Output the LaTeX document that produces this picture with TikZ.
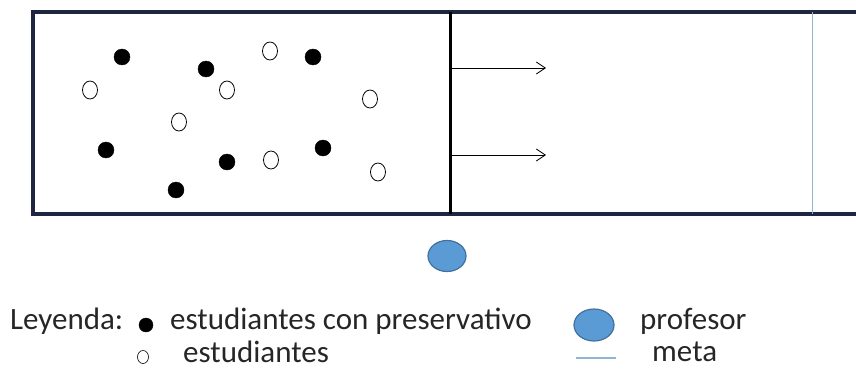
\documentclass[tikz,border=0pt]{standalone}
\usepackage{fontspec}
\setmainfont{Carlito}
\usetikzlibrary{arrows.meta,shapes.geometric}
\definecolor{frame}{HTML}{1F2640}
\definecolor{profFill}{HTML}{5B9BD5}
\definecolor{profLine}{HTML}{41719C}
\definecolor{metaLine}{HTML}{8FB4D8}
\tikzset{
  con/.style={circle,fill=black,draw=black,minimum width=15pt,minimum height=16pt,inner sep=0pt},
  sin/.style={ellipse,draw=black,line width=0.8pt,fill=white,minimum width=15pt,minimum height=18pt,inner sep=0pt},
  prof/.style={ellipse,fill=profFill,draw=profLine,line width=1.2pt,inner sep=0pt},
  lab/.style={anchor=west,font=\fontsize{31}{36}\selectfont,inner sep=0pt,text=black!85},
  runarrow/.style={-{Straight Barb[length=9pt,width=12pt]},line width=0.8pt}
}
\begin{document}
\begin{tikzpicture}[x=1pt,y=-1pt]
\useasboundingbox (0,0) rectangle (856,369);
\begin{scope}
\clip (0,0) rectangle (856,369);
% field
\draw[frame,line width=4pt] (870,12) -- (33,12) -- (33,214) -- (870,214);
\draw[black,line width=3pt] (450,12) -- (450,214);
\draw[metaLine,line width=1pt] (812,12) -- (812,214);
\end{scope}
% arrows
\coordinate (a1s) at (452,68);
\coordinate (a1e) at (546,68);
\coordinate (a2s) at (452,155);
\coordinate (a2e) at (546,155);
\draw[runarrow] (a1s) -- (a1e);
\draw[runarrow] (a2s) -- (a2e);
% students with condom
\node[con] (c1) at (122,57) {};
\node[con] (c2) at (206,69) {};
\node[con] (c3) at (313,57) {};
\node[con] (c4) at (106,150) {};
\node[con] (c5) at (227,162) {};
\node[con] (c6) at (323,148) {};
\node[con] (c7) at (176,190) {};
% students
\node[sin] (s1) at (90,90) {};
\node[sin] (s2) at (227,90) {};
\node[sin] (s3) at (270,51) {};
\node[sin] (s4) at (370,99) {};
\node[sin] (s5) at (179,122) {};
\node[sin] (s6) at (271,160) {};
\node[sin] (s7) at (378,172) {};
% professor
\node[prof,minimum width=38pt,minimum height=31pt] (p) at (447,256) {};
% legend
\node[lab] (ley) at (10,321) {Leyenda:};
\node[con,minimum width=11pt,minimum height=14pt] (lc) at (146,325) {};
\node[lab] (lct) at (170,321) {estudiantes con preservativo};
\node[prof,minimum width=40pt,minimum height=32pt] (lp) at (594,325) {};
\node[lab] (lpt) at (640,321) {profesor};
\node[sin,line width=0.6pt,minimum width=11pt,minimum height=13pt] (ls) at (143,357) {};
\node[lab] (lst) at (183,352) {estudiantes};
\coordinate (m1) at (576,358);
\coordinate (m2) at (616,358);
\draw[metaLine,line width=1.2pt] (m1) -- (m2);
\node[lab] (lmt) at (652,352) {meta};
\end{tikzpicture}
\end{document}
